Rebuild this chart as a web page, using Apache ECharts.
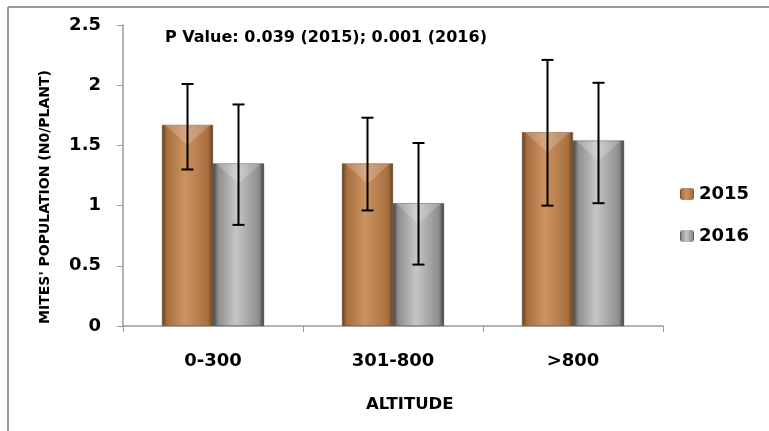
<!DOCTYPE html>
<html>
<head>
<meta charset="utf-8">
<script src="https://cdn.jsdelivr.net/npm/echarts@6/dist/echarts.min.js"></script>
<style>html,body{margin:0;padding:0;background:#fff}#c{width:769px;height:431px}</style>
</head>
<body>
<div id="c"></div>
<script>
const categories = ['0-300', '301-800', '>800'];
const seriesNames = ['2015', '2016'];
const means2015 = [1.67, 1.35, 1.61];
const means2016 = [1.35, 1.02, 1.54];
const low2015 = [1.30, 0.96, 1.00];
const high2015 = [2.01, 1.73, 2.21];
const low2016 = [0.84, 0.51, 1.02];
const high2016 = [1.84, 1.52, 2.02];
const yTicks = [0, 0.5, 1, 1.5, 2, 2.5];
const titleText = 'P Value: 0.039 (2015); 0.001 (2016)';

const FONT = '"DejaVu Sans", sans-serif';
const BAR_W = 51;

function grad(edge, mid, light) {
  return new echarts.graphic.LinearGradient(0, 0, 1, 0, [
    {offset: 0, color: edge},
    {offset: 0.1, color: mid},
    {offset: 0.45, color: light},
    {offset: 0.9, color: mid},
    {offset: 1, color: edge}
  ]);
}
const copper = grad('#64401f', '#a8703f', '#cc9262');
const silver = grad('#3e3e3e', '#8e8e8e', '#c6c6c6');

function errSeries(lows, highs, offset) {
  return {
    type: 'custom',
    silent: true,
    z: 10,
    data: categories.map((c, i) => [i, lows[i], highs[i]]),
    renderItem: function (params, api) {
      const i = api.value(0);
      const lo = api.coord([i, api.value(1)]);
      const hi = api.coord([i, api.value(2)]);
      const x = lo[0] + offset;
      const cap = 6;
      const st = {stroke: '#000', lineWidth: 2};
      return {type: 'group', children: [
        {type: 'line', shape: {x1: x, y1: hi[1], x2: x, y2: lo[1]}, style: st},
        {type: 'line', shape: {x1: x - cap, y1: hi[1], x2: x + cap, y2: hi[1]}, style: st},
        {type: 'line', shape: {x1: x - cap, y1: lo[1], x2: x + cap, y2: lo[1]}, style: st}
      ]};
    }
  };
}

// decorative bevel on top of each bar (drawn at the bar's own value)
function bevelSeries(values, offset) {
  return {
    type: 'custom',
    silent: true,
    z: 5,
    data: categories.map((c, i) => [i, values[i]]),
    renderItem: function (params, api) {
      const i = api.value(0);
      const top = api.coord([i, api.value(1)]);
      const x0 = top[0] + offset - BAR_W / 2;
      const x1 = top[0] + offset + BAR_W / 2;
      const y = top[1];
      const d = BAR_W * 0.4;
      return {type: 'polygon', shape: {points: [[x0 + 3, y], [x1 - 3, y], [(x0 + x1) / 2, y + d]]},
        style: {fill: 'rgba(255,255,255,0.2)'}};
    }
  };
}

const chart = echarts.init(document.getElementById('c'));
chart.setOption({
  animation: false,
  backgroundColor: '#fff',
  textStyle: {fontFamily: FONT},
  grid: {left: 123, right: 106, top: 25, bottom: 105},
  legend: {
    orient: 'vertical', left: 675, top: 180,
    itemWidth: 14, itemHeight: 12, itemGap: 24, itemStyle: {borderWidth: 0},
    data: seriesNames,
    textStyle: {fontFamily: FONT, fontWeight: 'bold', fontSize: 18, color: '#000'}
  },
  xAxis: {
    type: 'category', data: categories,
    axisLine: {lineStyle: {color: '#9a9a9a', width: 1.5}},
    axisTick: {show: true, length: 6, lineStyle: {color: '#9a9a9a'}},
    axisLabel: {margin: 26, fontFamily: FONT, fontWeight: 'bold', fontSize: 18, color: '#000'}
  },
  yAxis: {
    type: 'value', min: yTicks[0], max: yTicks[yTicks.length - 1], interval: 0.5,
    splitLine: {show: false},
    axisLine: {show: true, lineStyle: {color: '#9a9a9a', width: 1.5}},
    axisTick: {show: true, length: 6, lineStyle: {color: '#9a9a9a'}},
    axisLabel: {margin: 22, fontFamily: FONT, fontWeight: 'bold', fontSize: 18, color: '#000'}
  },
  graphic: [
    {type: 'line', shape: {x1: 8, y1: 7, x2: 769, y2: 7}, style: {stroke: '#9a9a9a', lineWidth: 2}},
    {type: 'line', shape: {x1: 8, y1: 7, x2: 8, y2: 431}, style: {stroke: '#9a9a9a', lineWidth: 2}},
    {type: 'text', left: 165, top: 30, style: {text: titleText, font: 'bold 16px ' + FONT, fill: '#000'}},
    {type: 'text', left: 366, top: 396, style: {text: 'ALTITUDE', font: 'bold 16.5px ' + FONT, fill: '#000'}},
    {type: 'text', x: 45, y: 197, rotation: Math.PI / 2,
      style: {text: "MITES' POPULATION (N0/PLANT)", font: 'bold 14px ' + FONT, fill: '#000', align: 'center', verticalAlign: 'middle'}}
  ],
  series: [
    {name: seriesNames[0], type: 'bar', data: means2015, barWidth: BAR_W, barGap: '0%',
      itemStyle: {color: copper, borderColor: '#5c3a1e', borderWidth: 0.5}},
    {name: seriesNames[1], type: 'bar', data: means2016, barWidth: BAR_W,
      itemStyle: {color: silver, borderColor: '#3a3a3a', borderWidth: 0.5}},
    bevelSeries(means2015, -BAR_W / 2),
    bevelSeries(means2016, BAR_W / 2),
    errSeries(low2015, high2015, -BAR_W / 2),
    errSeries(low2016, high2016, BAR_W / 2)
  ]
});
</script>
</body>
</html>
